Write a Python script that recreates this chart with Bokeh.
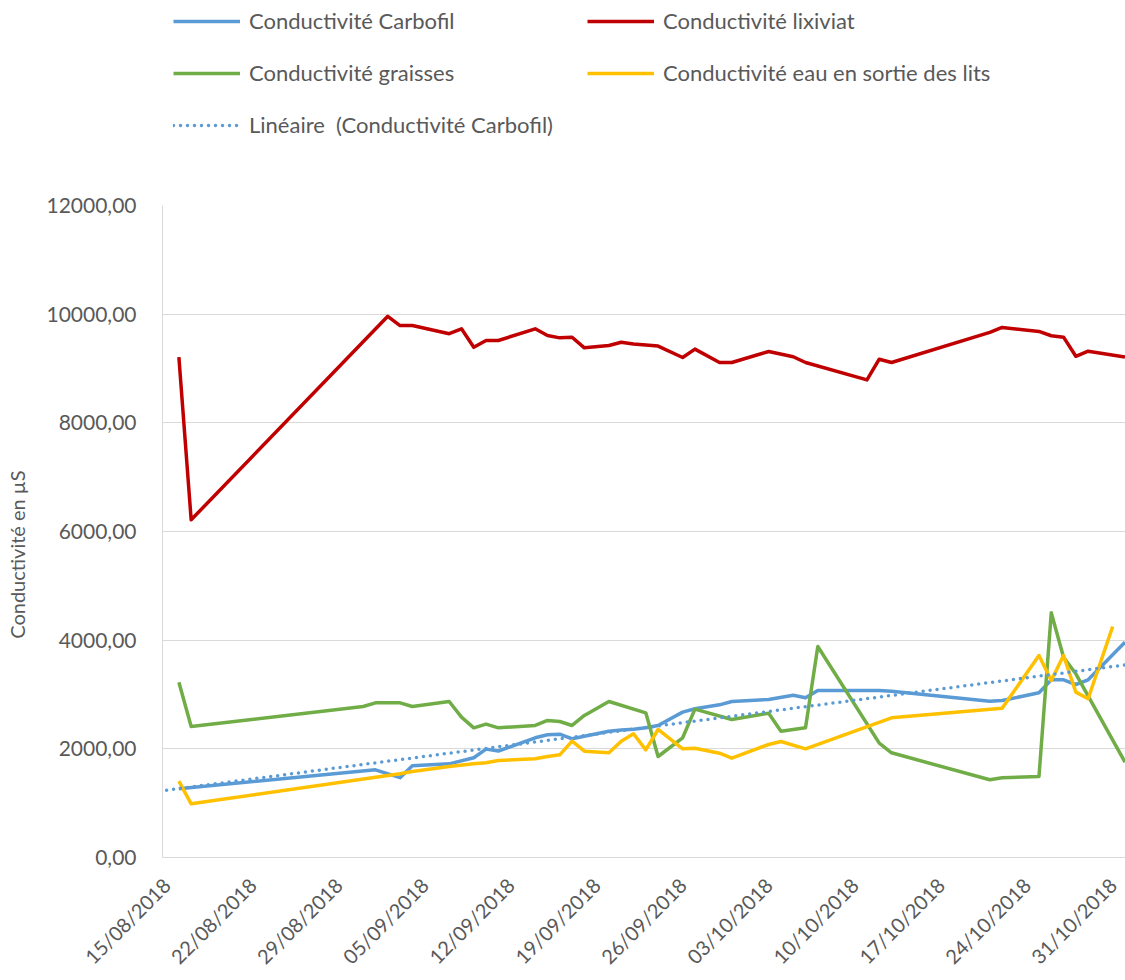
import math
import numpy as np
import pandas as pd
from bokeh.plotting import figure
from bokeh.layouts import column
from bokeh.models import Legend, LegendItem, FixedTicker, DatetimeTickFormatter, Range1d
from bokeh.embed import file_html
from bokeh.resources import INLINE

# ---------------- data ----------------
carbofil_dates = ["16/08/2018", "01/09/2018", "03/09/2018", "04/09/2018", "07/09/2018", "09/09/2018",
                  "10/09/2018", "11/09/2018", "14/09/2018", "15/09/2018", "16/09/2018", "17/09/2018",
                  "18/09/2018", "20/09/2018", "21/09/2018", "22/09/2018", "23/09/2018", "24/09/2018",
                  "26/09/2018", "27/09/2018", "29/09/2018", "30/09/2018", "03/10/2018", "05/10/2018",
                  "06/10/2018", "07/10/2018", "12/10/2018", "13/10/2018", "21/10/2018", "22/10/2018",
                  "25/10/2018", "26/10/2018", "27/10/2018", "28/10/2018", "29/10/2018", "01/11/2018"]
carbofil_values = [1264, 1614, 1470, 1690, 1724, 1835,
                   1995, 1960, 2203, 2258, 2270, 2185,
                   2233, 2325, 2345, 2360, 2387, 2430,
                   2675, 2737, 2810, 2871, 2908, 2987,
                   2939, 3074, 3074, 3061, 2877, 2890,
                   3031, 3270, 3270, 3184, 3270, 3963]

lixiviat_dates = ["16/08/2018", "17/08/2018", "02/09/2018", "03/09/2018", "04/09/2018", "07/09/2018",
                  "08/09/2018", "09/09/2018", "10/09/2018", "11/09/2018", "14/09/2018", "15/09/2018",
                  "16/09/2018", "17/09/2018", "18/09/2018", "20/09/2018", "21/09/2018", "22/09/2018",
                  "24/09/2018", "26/09/2018", "27/09/2018", "29/09/2018", "30/09/2018", "03/10/2018",
                  "05/10/2018", "06/10/2018", "11/10/2018", "12/10/2018", "13/10/2018", "21/10/2018",
                  "22/10/2018", "25/10/2018", "26/10/2018", "27/10/2018", "28/10/2018", "29/10/2018",
                  "01/11/2018"]
lixiviat_values = [9210, 6215, 9960, 9790, 9790, 9640,
                   9730, 9390, 9515, 9515, 9730, 9607,
                   9564, 9576, 9380, 9423, 9484, 9450,
                   9412, 9203, 9357, 9110, 9110, 9313,
                   9216, 9110, 8790, 9171, 9110, 9664,
                   9756, 9682, 9603, 9577, 9225, 9319,
                   9212]

graisses_dates = ["16/08/2018", "17/08/2018", "31/08/2018", "01/09/2018", "03/09/2018", "04/09/2018",
                  "07/09/2018", "08/09/2018", "09/09/2018", "10/09/2018", "11/09/2018", "14/09/2018",
                  "15/09/2018", "16/09/2018", "17/09/2018", "18/09/2018", "20/09/2018", "23/09/2018",
                  "24/09/2018", "26/09/2018", "27/09/2018", "30/09/2018", "03/10/2018", "04/10/2018",
                  "06/10/2018", "07/10/2018", "12/10/2018", "13/10/2018", "21/10/2018", "22/10/2018",
                  "25/10/2018", "26/10/2018", "27/10/2018", "28/10/2018", "01/11/2018"]
graisses_values = [3227, 2411, 2779, 2847, 2847, 2779,
                   2871, 2583, 2387, 2455, 2387, 2430,
                   2522, 2503, 2430, 2614, 2871, 2663,
                   1859, 2203, 2730, 2540, 2656, 2325,
                   2387, 3884, 2104, 1927, 1430, 1467,
                   1491, 4504, 3687, 3381, 1754]

eau_dates = ["16/08/2018", "17/08/2018", "03/09/2018", "04/09/2018", "07/09/2018", "09/09/2018",
             "10/09/2018", "11/09/2018", "14/09/2018", "15/09/2018", "16/09/2018", "17/09/2018",
             "18/09/2018", "20/09/2018", "21/09/2018", "22/09/2018", "23/09/2018", "24/09/2018",
             "26/09/2018", "27/09/2018", "29/09/2018", "30/09/2018", "03/10/2018", "04/10/2018",
             "06/10/2018", "13/10/2018", "22/10/2018", "25/10/2018", "26/10/2018", "27/10/2018",
             "28/10/2018", "29/10/2018", "31/10/2018"]
eau_values = [1405, 988, 1540, 1583, 1675, 1724,
              1743, 1785, 1816, 1859, 1890, 2141,
              1957, 1927, 2141, 2277, 1982, 2356,
              2000, 2012, 1920, 1828, 2080, 2135,
              2000, 2571, 2748, 3718, 3258, 3718,
              3043, 2921, 4252]

tick_labels = ["15/08/2018", "22/08/2018", "29/08/2018", "05/09/2018", "12/09/2018", "19/09/2018",
               "26/09/2018", "03/10/2018", "10/10/2018", "17/10/2018", "24/10/2018", "31/10/2018"]
y_ticks = [0, 2000, 4000, 6000, 8000, 10000, 12000]
y_tick_labels = ["0,00", "2000,00", "4000,00", "6000,00", "8000,00", "10000,00", "12000,00"]

names = ["Conductivité Carbofil", "Conductivité lixiviat", "Conductivité graisses",
         "Conductivité eau en sortie des lits", "Linéaire  (Conductivité Carbofil)"]
colors = ["#5B9BD5", "#C00000", "#70AD47", "#FFC000"]


def to_dt(lst):
    return pd.to_datetime(lst, format="%d/%m/%Y")


FONT = "Lato"
GREY = "#595959"
LW = 3.5
W = 1125
LEG_H = 150

x_start = pd.Timestamp("2018-08-15") - pd.Timedelta(hours=8)
x_end = pd.Timestamp("2018-11-01") + pd.Timedelta(hours=1)

p = figure(width=W, height=980 - LEG_H, x_axis_type="datetime",
           x_range=Range1d(x_start, x_end), y_range=Range1d(0, 12000),
           output_backend="svg", toolbar_location=None,
           min_border_left=162, min_border_right=0, min_border_top=205 - LEG_H, min_border_bottom=123)
p.outline_line_color = None
p.background_fill_color = "white"
p.border_fill_color = "white"

series = [(carbofil_dates, carbofil_values), (lixiviat_dates, lixiviat_values),
          (graisses_dates, graisses_values), (eau_dates, eau_values)]

line_kw = dict(line_width=LW, line_join="round")
for (d, v), c in zip(series, colors):
    p.line(to_dt(d), v, line_color=c, **line_kw)

# linear trend of Carbofil (least squares on days)
x0 = pd.Timestamp("2018-08-15")
cx = to_dt(carbofil_dates)
t = np.asarray((cx - x0).total_seconds() / 86400.0)
slope, intercept = np.polyfit(t, np.asarray(carbofil_values, dtype=float), 1)
t_line = np.array([0.0, 78.0])
trend_x = [x0 + pd.Timedelta(days=float(v)) for v in t_line]
trend_y = intercept + slope * t_line
trend_kw = dict(line_color=colors[0], line_width=LW, line_dash="0 7", line_cap="round")
p.line(trend_x, trend_y, **trend_kw)

# axes
ticks_ms = [int(v.value // 10**6) for v in to_dt(tick_labels)]
p.xaxis.ticker = FixedTicker(ticks=ticks_ms)
fmt = "%d/%m/%Y"
p.xaxis.formatter = DatetimeTickFormatter(microseconds=fmt, milliseconds=fmt, seconds=fmt, minsec=fmt,
                                          minutes=fmt, hourmin=fmt, hours=fmt, days=fmt, months=fmt, years=fmt)
p.xaxis.major_label_orientation = math.pi / 4
p.xaxis.major_label_standoff = 24
p.xaxis.major_tick_out = 0
p.xaxis.major_tick_in = 0
p.xaxis.minor_tick_out = 0
p.xaxis.minor_tick_in = 0
p.xaxis.axis_line_color = "#D9D9D9"
p.xaxis.major_label_text_font = FONT
p.xaxis.major_label_text_font_size = "20px"
p.xaxis.major_label_text_color = GREY

p.yaxis.ticker = FixedTicker(ticks=y_ticks)
p.yaxis.major_label_overrides = {k: v for k, v in zip(y_ticks, y_tick_labels)}
p.yaxis.major_tick_out = 0
p.yaxis.major_tick_in = 0
p.yaxis.minor_tick_out = 0
p.yaxis.minor_tick_in = 0
p.yaxis.axis_line_color = "#D9D9D9"
p.yaxis.major_label_standoff = 26
p.yaxis.major_label_text_font = FONT
p.yaxis.major_label_text_font_size = "21px"
p.yaxis.major_label_text_color = GREY
p.yaxis.axis_label = "Conductivité en µS" + "\u00a0" * 9
p.yaxis.axis_label_text_font = FONT
p.yaxis.axis_label_text_font_size = "20px"
p.yaxis.axis_label_text_font_style = "normal"
p.yaxis.axis_label_text_color = GREY
p.yaxis.axis_label_standoff = 14

p.xgrid.grid_line_color = None
p.ygrid.grid_line_color = "#D9D9D9"
p.ygrid.grid_line_width = 1

# legend strip on top: same series drawn outside its visible range, used only for the legend
lg = figure(width=W, height=LEG_H, x_axis_type="datetime", output_backend="svg", toolbar_location=None,
            x_range=Range1d(x_start, x_end), y_range=Range1d(-2, -1),
            x_axis_location=None, y_axis_location=None,
            min_border_left=0, min_border_right=0, min_border_top=0, min_border_bottom=0)
lg.grid.visible = False
lg.outline_line_color = None
lg.background_fill_color = "white"
lg.border_fill_color = "white"
g = [lg.line(to_dt(d), v, line_color=c, **line_kw) for (d, v), c in zip(series, colors)]
g.append(lg.line(trend_x, trend_y, **trend_kw))

legend = Legend(items=[LegendItem(label=n, renderers=[r]) for n, r in zip(names, g)],
                location=(11, LEG_H - 138), orientation="horizontal", ncols=2,
                glyph_width=67, glyph_height=20, label_height=20, label_width=313,
                label_standoff=9, spacing=25, padding=0, margin=0,
                border_line_color=None, background_fill_alpha=0,
                label_text_font=FONT, label_text_font_size="22px", label_text_color=GREY)
lg.add_layout(legend, "center")

layout = column(lg, p, spacing=0)
open("out.html", "w").write(file_html(layout, INLINE))
